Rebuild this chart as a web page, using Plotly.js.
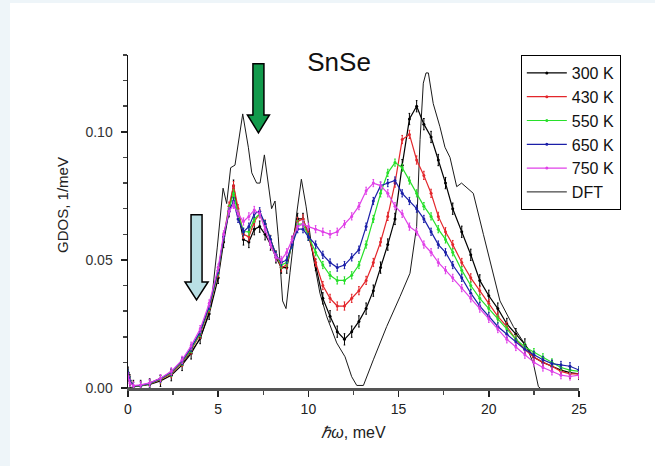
<!DOCTYPE html>
<html>
<head>
<meta charset="utf-8">
<script src="https://cdn.plot.ly/plotly-3.0.1.min.js"></script>
<style>
html,body{margin:0;padding:0;background:#eef5f9;width:655px;height:466px;overflow:hidden;}
#chart{position:absolute;left:10px;top:3px;width:645px;height:463px;background:#fff;}
</style>
</head>
<body>
<div id="chart"></div>
<script>
// Energy grid (meV) for the measured spectra
const energy = [0, 0.1, 0.3, 0.7, 1.2, 1.8, 2.4, 3.0, 3.5, 4.0, 4.5, 5.0, 5.3, 5.6, 5.85, 6.1, 6.4, 6.7, 7.0, 7.3, 7.6, 7.9, 8.2, 8.5, 8.8, 9.1, 9.4, 9.7, 10.0, 10.4, 10.8, 11.2, 11.6, 12.0, 12.4, 12.8, 13.2, 13.6, 14.0, 14.4, 14.8, 15.2, 15.6, 16.0, 16.4, 16.8, 17.2, 17.6, 18.0, 18.5, 19.0, 19.5, 20.0, 20.5, 21.0, 21.5, 22.0, 22.5, 23.0, 23.5, 24.0, 24.5, 25.0];

const gdos300 = [0.006, 0.003, 0.0008, 0.0008, 0.0014, 0.0028, 0.005, 0.009, 0.0135, 0.0195, 0.029, 0.043, 0.057, 0.069, 0.079, 0.068, 0.058, 0.057, 0.062, 0.063, 0.060, 0.056, 0.051, 0.047, 0.047, 0.057, 0.066, 0.066, 0.060, 0.048, 0.035, 0.028, 0.022, 0.019, 0.022, 0.026, 0.031, 0.038, 0.047, 0.056, 0.066, 0.087, 0.105, 0.110, 0.103, 0.098, 0.089, 0.080, 0.070, 0.061, 0.052, 0.042, 0.036, 0.031, 0.025, 0.021, 0.017, 0.012, 0.010, 0.0085, 0.007, 0.006, 0.0055];
const gdos430 = [0.006, 0.003, 0.0008, 0.0009, 0.0016, 0.0032, 0.0056, 0.010, 0.0148, 0.021, 0.031, 0.045, 0.059, 0.071, 0.079, 0.070, 0.060, 0.059, 0.065, 0.068, 0.064, 0.058, 0.052, 0.047, 0.048, 0.057, 0.065, 0.066, 0.060, 0.049, 0.040, 0.035, 0.032, 0.032, 0.035, 0.038, 0.042, 0.049, 0.057, 0.067, 0.080, 0.097, 0.099, 0.089, 0.083, 0.076, 0.067, 0.061, 0.056, 0.049, 0.043, 0.038, 0.033, 0.028, 0.024, 0.019, 0.015, 0.012, 0.010, 0.0085, 0.0065, 0.0055, 0.0055];
const gdos550 = [0.006, 0.003, 0.0008, 0.0009, 0.0017, 0.0034, 0.0059, 0.0103, 0.0152, 0.0215, 0.0315, 0.0455, 0.059, 0.070, 0.076, 0.068, 0.061, 0.061, 0.066, 0.068, 0.064, 0.058, 0.052, 0.048, 0.049, 0.056, 0.064, 0.064, 0.059, 0.053, 0.048, 0.044, 0.042, 0.042, 0.044, 0.048, 0.056, 0.066, 0.076, 0.084, 0.088, 0.086, 0.081, 0.076, 0.071, 0.067, 0.062, 0.058, 0.053, 0.046, 0.040, 0.035, 0.031, 0.027, 0.023, 0.019, 0.016, 0.014, 0.012, 0.010, 0.008, 0.007, 0.0065];
const gdos650 = [0.006, 0.003, 0.0008, 0.001, 0.0018, 0.0036, 0.0062, 0.0106, 0.0157, 0.022, 0.032, 0.046, 0.059, 0.069, 0.073, 0.066, 0.061, 0.063, 0.068, 0.069, 0.064, 0.058, 0.052, 0.049, 0.050, 0.056, 0.062, 0.062, 0.059, 0.056, 0.052, 0.049, 0.047, 0.048, 0.051, 0.054, 0.063, 0.073, 0.079, 0.080, 0.081, 0.076, 0.073, 0.070, 0.066, 0.061, 0.056, 0.053, 0.048, 0.043, 0.037, 0.032, 0.028, 0.024, 0.021, 0.018, 0.015, 0.013, 0.011, 0.0095, 0.009, 0.0085, 0.007];
const gdos750 = [0.0045, 0.002, 0.0009, 0.0012, 0.002, 0.0038, 0.0065, 0.011, 0.0165, 0.023, 0.033, 0.047, 0.060, 0.069, 0.0715, 0.068, 0.065, 0.067, 0.0695, 0.068, 0.062, 0.056, 0.051, 0.050, 0.053, 0.058, 0.063, 0.064, 0.063, 0.062, 0.061, 0.060, 0.061, 0.064, 0.067, 0.071, 0.077, 0.080, 0.079, 0.076, 0.071, 0.068, 0.063, 0.061, 0.056, 0.053, 0.049, 0.046, 0.043, 0.039, 0.035, 0.031, 0.027, 0.023, 0.019, 0.016, 0.013, 0.010, 0.008, 0.0065, 0.005, 0.0045, 0.005];

// DFT calculation
const dftEnergy = [0, 1, 2, 3, 4, 4.6, 4.95, 5.27, 5.47, 5.69, 5.93, 6.36, 6.67, 6.86, 7.13, 7.32, 7.56, 7.78, 7.96, 8.15, 8.33, 8.57, 8.76, 8.98, 9.35, 9.61, 9.87, 10.27, 10.64, 11.01, 11.57, 12.03, 12.4, 12.68, 13.05, 13.6, 14.34, 15.08, 15.63, 16.0, 16.19, 16.37, 16.52, 16.65, 16.92, 17.29, 17.57, 17.85, 18.22, 18.49, 19.14, 19.7, 20.07, 20.62, 21.36, 22.1, 22.47, 22.75, 22.85];
const dftGdos = [0, 0.0013, 0.0045, 0.0095, 0.019, 0.032, 0.055, 0.078, 0.072, 0.086, 0.087, 0.107, 0.094, 0.084, 0.080, 0.080, 0.091, 0.079, 0.070, 0.073, 0.059, 0.034, 0.031, 0.045, 0.068, 0.0815, 0.071, 0.051, 0.037, 0.028, 0.0176, 0.0122, 0.0044, 0.001, 0.001, 0.011, 0.024, 0.0357, 0.0448, 0.063, 0.097, 0.119, 0.123, 0.123, 0.111, 0.102, 0.094, 0.090, 0.0786, 0.080, 0.076, 0.060, 0.050, 0.034, 0.024, 0.016, 0.0096, 0.0005, 0];

const seriesNames = ['300 K', '430 K', '550 K', '650 K', '750 K'];
const seriesValues = [gdos300, gdos430, gdos550, gdos650, gdos750];
const seriesColors = ['#000000', '#e3262b', '#27e02a', '#1b1fa8', '#e040e8'];
const seriesErr = [0.0022, 0.0016, 0.0014, 0.0014, 0.0014];

const traces = [];
traces.push({
  x: dftEnergy, y: dftGdos, name: 'DFT', type: 'scatter', mode: 'lines',
  line: {color: '#1a1a1a', width: 1}, legendrank: 6
});
seriesNames.forEach((n, i) => {
  traces.push({
    x: energy, y: seriesValues[i], name: n, type: 'scatter', mode: 'lines+markers',
    line: {color: seriesColors[i], width: 1.2},
    marker: {color: seriesColors[i], size: 3},
    error_y: {type: 'constant', value: seriesErr[i], color: seriesColors[i], thickness: 1, width: 0.8},
    legendrank: i + 1
  });
});

const font = 'Liberation Sans, Arial, sans-serif';
const layout = {
  width: 645, height: 463,
  margin: {l: 118, r: 76, t: 52, b: 78},
  paper_bgcolor: '#ffffff', plot_bgcolor: '#ffffff',
  font: {family: font, color: '#222'},
  title: {text: 'SnSe', font: {family: font, size: 26, color: '#111'}, x: 0.468, xref: 'paper', xanchor: 'center', y: 0.872, yanchor: 'middle'},
  showlegend: true,
  legend: {
    x: 0.871, y: 1.0, xanchor: 'left', yanchor: 'top',
    bgcolor: '#ffffff', bordercolor: '#000', borderwidth: 1,
    font: {family: font, size: 16, color: '#111'},
    itemwidth: 40, tracegroupgap: 0, traceorder: 'normal'
  },
  xaxis: {
    range: [0, 25], dtick: 5, tick0: 0, showgrid: false, zeroline: false,
    showline: true, linecolor: '#555', linewidth: 3,
    ticks: 'outside', ticklen: 6, tickcolor: '#222', tickwidth: 1.5,
    minor: {dtick: 2.5, ticklen: 4, tickcolor: '#444', ticks: 'outside'},
    tickfont: {family: font, size: 14, color: '#222'},
    title: {text: '<i>ℏω</i>, meV', font: {family: font, size: 16, color: '#222'}, standoff: 12}
  },
  yaxis: {
    range: [0, 0.13], dtick: 0.05, tick0: 0, tickformat: '.2f', showgrid: false, zeroline: false,
    showline: true, linecolor: '#111', linewidth: 1.5,
    ticks: 'outside', ticklen: 6, tickcolor: '#222', tickwidth: 1.5, ticklabelstandoff: 5,
    minor: {dtick: 0.01, ticklen: 4, tickcolor: '#444', ticks: 'outside'},
    tickfont: {family: font, size: 14, color: '#333'}
  },
  annotations: [
    {text: 'GDOS, 1/meV', xref: 'paper', yref: 'paper', x: -0.144, y: 0.55, textangle: -90,
     showarrow: false, xanchor: 'center', yanchor: 'middle', font: {family: font, size: 15, color: '#222'}}
  ],
  shapes: [
    {type: 'path', xref: 'x', yref: 'y',
     path: 'M 6.925 0.1266 L 7.535 0.1266 L 7.535 0.1066 L 7.84 0.1066 L 7.23 0.0996 L 6.62 0.1066 L 6.925 0.1066 Z',
     fillcolor: '#129a4c', line: {color: '#000', width: 1.5}},
    {type: 'path', xref: 'x', yref: 'y',
     path: 'M 3.495 0.0676 L 4.105 0.0676 L 4.105 0.0414 L 4.44 0.0414 L 3.80 0.0344 L 3.16 0.0414 L 3.495 0.0414 Z',
     fillcolor: '#b9dfe4', line: {color: '#000', width: 1.5}}
  ]
};

Plotly.newPlot('chart', traces, layout, {displayModeBar: false, staticPlot: true});
</script>
</body>
</html>
